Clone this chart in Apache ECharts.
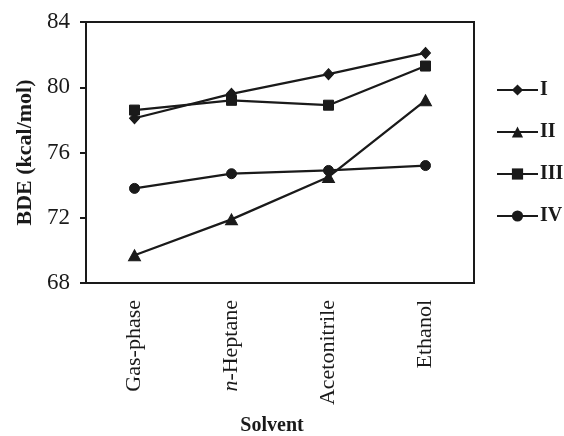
<!DOCTYPE html>
<html>
<head>
<meta charset="utf-8">
<script src="https://cdn.jsdelivr.net/npm/echarts@6/dist/echarts.min.js"></script>
<style>html,body{margin:0;padding:0;background:#fff}#c{width:564px;height:436px}</style>
</head>
<body>
<div id="c"></div>
<script>
var categories = ['Gas-phase', 'n-Heptane', 'Acetonitrile', 'Ethanol'];
var seriesNames = ['I', 'II', 'III', 'IV'];
var valuesI = [78.1, 79.6, 80.8, 82.1];
var valuesII = [69.7, 71.9, 74.5, 79.2];
var valuesIII = [78.6, 79.2, 78.9, 81.3];
var valuesIV = [73.8, 74.7, 74.9, 75.2];
var yTicks = [68, 72, 76, 80, 84];

var serif = '"Liberation Serif", "DejaVu Serif", serif';
var ink = '#1a1a1a';
var symbols = ['diamond', 'triangle', 'rect', 'circle'];
var sizes = [[10, 11], [12, 11], [10, 10], [10, 10]];
var allValues = [valuesI, valuesII, valuesIII, valuesIV];

var chart = echarts.init(document.getElementById('c'));
chart.setOption({
  animation: false,
  backgroundColor: '#fff',
  grid: { left: 86, top: 22, right: 90, bottom: 153, outerBoundsMode: 'none', containLabel: false, show: true, borderColor: ink, borderWidth: 2, backgroundColor: 'transparent' },
  legend: {
    orient: 'vertical',
    left: 496,
    top: 80,
    padding: 0,
    itemWidth: 41,
    itemHeight: 14,
    itemGap: 22,
    data: seriesNames,
    textStyle: { fontFamily: serif, fontWeight: 'bold', fontSize: 20, color: ink, padding: [0, 0, 0, -3] }
  },
  xAxis: {
    type: 'category',
    data: categories,
    boundaryGap: true,
    axisLine: { show: true, lineStyle: { color: ink, width: 2 } },
    axisTick: { show: false },
    axisLabel: {
      rotate: 90, margin: 17, fontFamily: serif, fontSize: 22, color: ink,
      formatter: function (v) { return v.indexOf('n-') === 0 ? '{i|n}' + v.slice(1) : v; },
      rich: { i: { fontStyle: 'italic', fontFamily: serif, fontSize: 22, color: ink } }
    },
    name: 'Solvent',
    nameLocation: 'middle',
    nameGap: 133,
    nameTextStyle: { fontFamily: serif, fontWeight: 'bold', fontSize: 20, color: ink, padding: [0, 16, 0, 0] }
  },
  yAxis: {
    type: 'value',
    min: 68, max: 84, interval: 4,
    axisLine: { show: true, lineStyle: { color: ink, width: 2 } },
    axisTick: { show: true, inside: false, length: 6, lineStyle: { color: ink, width: 2 } },
    splitLine: { show: false },
    axisLabel: {
      margin: 16, fontFamily: serif, fontSize: 23, color: ink,
      formatter: function (v) { return yTicks.indexOf(v) >= 0 ? String(v) : ''; }
    },
    name: 'BDE (kcal/mol)',
    nameLocation: 'middle',
    nameGap: 49,
    nameTextStyle: { fontFamily: serif, fontWeight: 'bold', fontSize: 22, color: ink }
  },
  series: seriesNames.map(function (n, i) {
    return {
      name: n, type: 'line', data: allValues[i],
      symbol: symbols[i], symbolSize: sizes[i],
      lineStyle: { color: ink, width: 2.3 },
      itemStyle: { color: ink, borderColor: ink },
      emphasis: { disabled: true }
    };
  })
});
</script>
</body>
</html>
